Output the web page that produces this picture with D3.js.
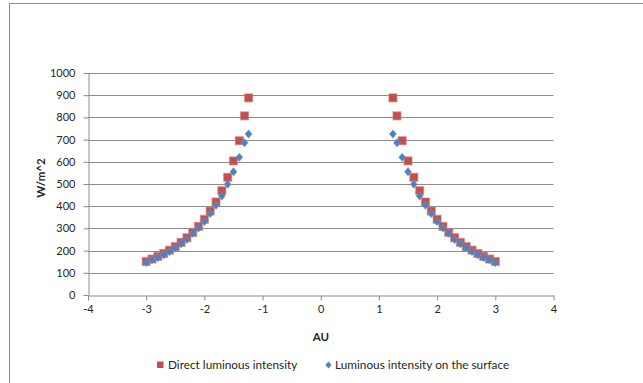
<!DOCTYPE html>
<html>
<head>
<meta charset="utf-8">
<script src="https://cdn.jsdelivr.net/npm/d3@7"></script>
<style>
  html, body { margin: 0; padding: 0; background: #fff; }
  svg { display: block; }
  text { font-family: Lato, "Open Sans", "DejaVu Sans", sans-serif; fill: #262626; }
</style>
</head>
<body>
<svg id="chart" width="643" height="383"></svg>
<script>
// Distance from the star (AU), mirrored on both sides of zero
const distancesAU = [1.24, 1.31, 1.4, 1.5, 1.6, 1.7, 1.8, 1.9, 2.0, 2.1, 2.2, 2.3, 2.4, 2.5, 2.6, 2.7, 2.8, 2.9, 3.0];
// Direct luminous intensity (W/m^2)
const directIntensity = [888, 807, 695, 604, 530, 470, 419, 378, 341, 309, 282, 258, 237, 218, 202, 187, 174, 162, 151];
// Luminous intensity on the surface (W/m^2)
const surfaceIntensity = [725, 686, 620, 555, 499, 446, 404, 367, 331, 302, 278, 250, 231, 212, 196, 181, 169, 158, 146];

const xTicks = [-4, -3, -2, -1, 0, 1, 2, 3, 4];
const yTicks = [0, 100, 200, 300, 400, 500, 600, 700, 800, 900, 1000];
const seriesNames = ["Direct luminous intensity", "Luminous intensity on the surface"];

const RED = "#C0504D", BLUE = "#4F81BD", GRID = "#8c8c8c";

// Build mirrored point sets for both sides
function mirrored(values) {
  const pts = [];
  distancesAU.forEach((d, i) => {
    pts.push({ x: -d, y: values[i] });
    pts.push({ x: d, y: values[i] });
  });
  return pts;
}
const directPts = mirrored(directIntensity);
const surfacePts = mirrored(surfaceIntensity);

const svg = d3.select("#chart");

// Outer chart frame (runs past the right and bottom edges)
svg.append("rect")
  .attr("x", 9.5).attr("y", 3.5)
  .attr("width", 700).attr("height", 420)
  .attr("fill", "none").attr("stroke", "#8c8c8c").attr("stroke-width", 1);

const x = d3.scaleLinear().domain([-4, 4]).range([88, 553.5]);
const y = d3.scaleLinear().domain([0, 1000]).range([295, 73]);

// Horizontal gridlines
svg.append("g")
  .selectAll("line")
  .data(yTicks.filter(t => t > 0))
  .join("line")
  .attr("x1", x(-4)).attr("x2", x(4))
  .attr("y1", d => Math.round(y(d)) + 0.5).attr("y2", d => Math.round(y(d)) + 0.5)
  .attr("stroke", GRID).attr("stroke-width", 1);

// Plain integer labels with an ASCII hyphen for negatives
const plain = d => String(d);

// Y axis
const yAxis = svg.append("g")
  .attr("transform", `translate(${Math.round(x(-4)) + 0.5},0)`)
  .call(d3.axisLeft(y).tickValues(yTicks).tickFormat(plain).tickSize(5).tickPadding(8).tickSizeOuter(0));
// X axis
const xAxis = svg.append("g")
  .attr("transform", `translate(0,${Math.round(y(0)) + 0.5})`)
  .call(d3.axisBottom(x).tickValues(xTicks).tickFormat(plain).tickSize(5).tickPadding(5).tickSizeOuter(0));

[yAxis, xAxis].forEach(g => {
  g.select(".domain").attr("stroke", GRID);
  g.selectAll(".tick line").attr("stroke", GRID);
  g.selectAll(".tick text")
    .style("font-family", "Lato, 'Open Sans', sans-serif")
    .style("font-size", "11px")
    .attr("fill", "#262626");
});

// Direct luminous intensity: red squares
const sq = 8;
svg.append("g")
  .selectAll("rect")
  .data(directPts)
  .join("rect")
  .attr("x", d => x(d.x) - sq / 2)
  .attr("y", d => y(d.y) - sq / 2)
  .attr("width", sq).attr("height", sq)
  .attr("fill", RED)
  .attr("stroke", "rgba(214,120,117,0.55)").attr("stroke-width", 1.2);

// Luminous intensity on the surface: blue diamonds
const diamond = (cx, cy, r) => `M${cx},${cy - r}L${cx + r * 0.85},${cy}L${cx},${cy + r}L${cx - r * 0.85},${cy}Z`;
svg.append("g")
  .selectAll("path")
  .data(surfacePts)
  .join("path")
  .attr("d", d => diamond(x(d.x), y(d.y), 4.2))
  .attr("fill", BLUE)
  .attr("stroke", "rgba(120,160,210,0.5)").attr("stroke-width", 0.8);

// Axis titles
svg.append("text")
  .attr("x", 321).attr("y", 341)
  .attr("text-anchor", "middle")
  .style("font-weight", "bold").style("font-size", "11.5px")
  .text("AU");

svg.append("text")
  .attr("transform", "translate(45,178) rotate(-90)")
  .attr("text-anchor", "middle")
  .style("font-weight", "bold").style("font-size", "11.5px")
  .text("W/m^2");

// Legend
const legend = svg.append("g");
legend.append("rect")
  .attr("x", 157).attr("y", 361.5).attr("width", 6.5).attr("height", 6.5)
  .attr("fill", RED);
legend.append("text")
  .attr("x", 168).attr("y", 369)
  .style("font-size", "11.8px")
  .text(seriesNames[0]);
legend.append("path")
  .attr("d", diamond(328.5, 365, 3.6))
  .attr("fill", BLUE);
legend.append("text")
  .attr("x", 335).attr("y", 369)
  .style("font-size", "11.8px")
  .text(seriesNames[1]);
</script>
</body>
</html>
